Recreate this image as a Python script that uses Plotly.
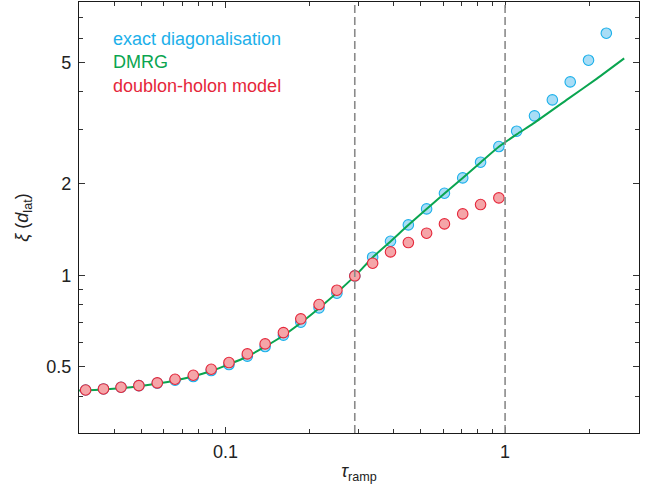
import plotly.graph_objects as go

# ---- data ----
ed_tau = [0.0316, 0.0366, 0.0423, 0.0490, 0.0570, 0.0660, 0.0767, 0.0889, 0.1029, 0.1197,
          0.1386, 0.1611, 0.1859, 0.2161, 0.2503, 0.2901, 0.3360, 0.3892, 0.4508, 0.5240,
          0.6069, 0.7054, 0.8172, 0.9500, 1.100, 1.274, 1.476, 1.710, 1.988, 2.302]
ed_xi = [0.420, 0.4233, 0.4287, 0.4342, 0.442, 0.4522, 0.4649, 0.4865, 0.5090, 0.5423,
         0.5833, 0.6358, 0.7012, 0.7814, 0.8729, 0.995, 1.146, 1.293, 1.463, 1.651,
         1.858, 2.087, 2.350, 2.645, 2.970, 3.336, 3.764, 4.312, 5.08, 6.23]

dh_tau = ed_tau[:24]
dh_xi = [0.420, 0.4233, 0.4287, 0.4342, 0.4430, 0.4555, 0.4695, 0.4913, 0.5167, 0.5516,
         0.5951, 0.6481, 0.7190, 0.8012, 0.8929, 0.995, 1.095, 1.193, 1.280, 1.374,
         1.474, 1.590, 1.706, 1.794]

dmrg_tau = [0.0299, 0.0366, 0.0490, 0.0660, 0.0889, 0.1197, 0.1611, 0.2161, 0.2901, 0.3360,
            0.3892, 0.4508, 0.5240, 0.6069, 0.7054, 0.8172, 0.9500, 1.100, 1.263, 1.685,
            2.13, 2.667]
dmrg_xi = [0.418, 0.4215, 0.432, 0.451, 0.485, 0.541, 0.634, 0.779, 0.993, 1.144,
           1.291, 1.461, 1.649, 1.855, 2.085, 2.345, 2.64, 2.90, 3.15, 3.80,
           4.42, 5.15]

ramp_marks = [0.29, 1.0]

x_major = [0.1, 1]
x_minor = [0.03, 0.04, 0.05, 0.06, 0.07, 0.08, 0.09, 0.2, 0.3, 0.4, 0.5, 0.6, 0.7, 0.8, 0.9, 2, 3]
y_major = [0.5, 1, 2, 5]
y_minor = [0.3, 0.4, 0.6, 0.7, 0.8, 0.9, 3, 4, 6, 7, 8]

BLUE_EDGE = "#1cb0ea"
BLUE_FILL = "#a9ddf6"
RED_EDGE = "#e5263a"
RED_FILL = "#f5a5a8"
GREEN = "#0aa550"

fig = go.Figure()
fig.add_trace(go.Scatter(x=ed_tau, y=ed_xi, mode="markers", name="exact diagonalisation",
                         marker=dict(size=10.5, color=BLUE_FILL, line=dict(color=BLUE_EDGE, width=1.1))))
fig.add_trace(go.Scatter(x=dmrg_tau, y=dmrg_xi, mode="lines", name="DMRG",
                         line=dict(color=GREEN, width=2, shape="spline", smoothing=0.6)))
fig.add_trace(go.Scatter(x=dh_tau, y=dh_xi, mode="markers", name="doublon-holon model",
                         marker=dict(size=10.5, color=RED_FILL, line=dict(color=RED_EDGE, width=1.1))))

for xm in ramp_marks:
    fig.add_vline(x=xm, line=dict(color="#8a8a8a", width=1.6, dash="8px,4px"))

font = "Liberation Sans, Arial, sans-serif"
axis_common = dict(
    type="log", showgrid=False, zeroline=False,
    showline=True, linecolor="#1a1a1a", linewidth=1.2, mirror="allticks",
    ticks="inside", ticklen=6, tickwidth=1, tickcolor="#333",
    tickfont=dict(family=font, size=18, color="#222"),
)
fig.update_xaxes(**axis_common, range=[-1.524, 0.479], tickmode="array", tickvals=x_major,
                 ticktext=["0.1", "1"], ticklabelstandoff=2,
                 minor=dict(tickmode="array", tickvals=x_minor, ticks="inside", ticklen=3.5,
                            tickcolor="#333", tickwidth=1),
                 title=dict(text="<i>τ</i><sub>ramp</sub>", font=dict(family=font, size=18, color="#222"),
                            standoff=3))
fig.update_yaxes(**axis_common, range=[-0.518, 0.897], tickmode="array", tickvals=y_major,
                 ticktext=["0.5", "1", "2", "5"], ticklabelstandoff=3,
                 minor=dict(tickmode="array", tickvals=y_minor, ticks="inside", ticklen=3.5,
                            tickcolor="#333", tickwidth=1),
                 title=dict(text="<i>ξ</i> (<i>d</i><sub>lat</sub>)", font=dict(family=font, size=18, color="#222"),
                            standoff=12))

fig.add_annotation(
    xref="paper", yref="paper", x=0.058, y=0.86, xanchor="left", yanchor="middle",
    align="left", showarrow=False, font=dict(family=font, size=18),
    text=(f'<span style="color:{BLUE_EDGE}">exact diagonalisation</span><br>'
          f'<span style="color:{GREEN}">DMRG</span><br>'
          f'<span style="color:{RED_EDGE}">doublon-holon model</span>'),
)

fig.update_layout(
    width=665, height=494, showlegend=False,
    margin=dict(l=79, r=26, t=2, b=61),
    paper_bgcolor="white", plot_bgcolor="white",
)

fig.write_html("out.html", config={"displayModeBar": False},
               post_script="document.body.style.margin='0';document.body.style.overflow='hidden';")
